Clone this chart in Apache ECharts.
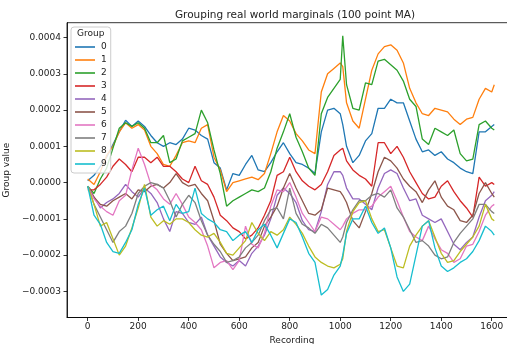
<!DOCTYPE html>
<html>
<head>
<meta charset="utf-8">
<script src="https://cdn.jsdelivr.net/npm/echarts@6/dist/echarts.min.js"></script>
<style>
  html, body { margin: 0; padding: 0; background: #fff; }
  #chart { width: 507px; height: 344px; }
</style>
</head>
<body>
<div id="chart"></div>
<script>
// Recording index of each moving-average sample
const recordings = [
  0, 25, 50, 75, 100, 125, 150, 175, 200, 225,
  250, 275, 300, 325, 350, 375, 400, 425, 450, 475,
  500, 525, 550, 575, 600, 625, 650, 675, 700, 725,
  750, 775, 800, 825, 850, 875, 900, 925, 950, 975,
  1000, 1010, 1025, 1050, 1075, 1100, 1125, 1150, 1175, 1200,
  1225, 1250, 1275, 1300, 1325, 1350, 1375, 1400, 1425, 1450,
  1475, 1500, 1525, 1550, 1575, 1600, 1610
];

// Group values, in units of 1e-4
const group0 = [
  0.05, 0.2, 0.45, 0.7, 1.05, 1.4, 1.72, 1.55, 1.7, 1.55,
  1.3, 1.1, 1.0, 1.1, 1.05, 1.2, 1.5, 1.45, 1.3, 1.2,
  0.55, 0.4, -0.2, 0.25, 0.2, 0.5, 0.75, 0.35, 0.3, 0.55,
  0.85, 1.1, 0.8, 0.55, 0.5, 0.4, 0.25, 1.4, 2.0, 2.05,
  1.9, 1.6, 1.0, 0.55, 0.75, 1.15, 1.35, 2.05, 2.05, 2.3,
  2.2, 2.2, 1.7, 1.2, 0.85, 0.9, 0.75, 0.85, 0.65, 0.55,
  0.4, 0.3, 0.25, 1.4, 1.4, 1.55, 1.6
];
const group1 = [
  0.1, -0.05, 0.3, 0.75, 1.0, 1.4, 1.65, 1.5, 1.6, 1.45,
  1.0, 0.8, 0.5, 0.45, 0.75, 1.1, 1.15, 1.1, 1.5, 1.6,
  0.7, 0.35, -0.25, 0.0, 0.05, 0.1, 0.15, 0.08, 0.25, 0.8,
  1.4, 1.85, 1.7, 1.35, 1.15, 0.9, 0.8, 2.5, 3.0, 3.15,
  3.3, 3.2, 2.2, 1.7, 1.5, 2.3, 3.1, 3.55, 3.75, 3.8,
  3.65, 3.3, 2.6, 2.2, 1.9, 1.85, 2.05, 2.0, 1.95, 1.75,
  1.6, 1.75, 1.8, 2.3, 2.6, 2.5, 2.7
];
const group2 = [
  -0.1, -0.3, 0.1, 0.4, 0.95, 1.5, 1.65, 1.55, 1.65, 1.5,
  1.1, 1.1, 1.3, 0.55, 0.65, 1.15, 1.25, 1.35, 2.0, 1.65,
  0.9, 0.25, -0.65, -0.5, -0.4, -0.3, -0.2, -0.25, -0.15, 0.3,
  0.95, 1.4, 1.9, 1.25, 0.85, 0.4, 0.2, 1.9, 2.35, 2.6,
  2.85, 4.05, 2.7, 2.05, 2.0, 2.75, 2.7, 3.35, 3.4, 3.25,
  3.1, 2.8, 2.3, 2.1, 1.2, 1.05, 1.5, 1.4, 1.3, 1.45,
  0.8, 0.6, 0.65, 1.6, 1.7, 1.5, 1.45
];
const group3 = [
  -0.2, -0.2, -0.05, 0.15, 0.45, 0.65, 0.5, 0.3, 0.7, 0.7,
  0.55, 0.7, 0.45, 0.45, 0.3, 0.1, 0.0, 0.45, 0.05, -0.05,
  -0.4, -0.9, -1.05, -1.25, -1.35, -1.55, -1.45, -1.25, -0.9, -0.5,
  0.2, 0.3, 0.7, 0.3, 0.05, -0.1, -0.2, -0.05, 0.3, 0.75,
  0.9, 0.95, 0.6, 0.35, 0.2, 0.1, -0.1, 1.1, 1.1, 0.8,
  1.0, 0.7, 0.3, 0.0, -0.3, -0.45, -0.4, -0.1, 0.05, -0.25,
  -0.5, -0.7, -0.95, 0.15, -0.1, 0.0, -0.05
];
const group4 = [
  -0.1, -0.4, -0.7, -0.55, -0.45, -0.3, -0.05, -0.25, -0.4, -0.15,
  -0.3, -0.55, -1.0, -1.35, -0.8, -0.85, -1.1, -1.15, -0.95, -1.45,
  -1.75, -2.05, -2.2, -2.3, -2.15, -2.3, -1.95, -1.75, -1.45, -1.0,
  -0.35, -0.15, -0.3, -0.55, -1.05, -1.3, -1.35, -0.8, -0.05, 0.3,
  0.3, 0.2, -0.15, -0.45, -0.45, -0.6, -0.75, -0.15, 0.25, 0.35,
  0.25, -0.15, -0.5, -0.45, -0.9, -1.0, -1.1, -1.0, -1.35, -1.7,
  -1.85, -1.65, -1.5, -0.95, -0.5, -0.35, -0.25
];
const group5 = [
  -0.1, -0.4, -0.6, -0.65, -0.5, -0.4, -0.3, -0.45, -0.2, -0.25,
  -0.1, -0.05, -0.15, 0.0, 0.25, 0.0, -0.1, -0.05, -0.3, -0.5,
  -1.05, -1.7, -1.95, -2.15, -2.1, -2.05, -1.8, -1.65, -1.2, -0.95,
  -0.65, -0.15, 0.25, -0.15, -0.5, -0.85, -0.9, -0.75, -0.15, -0.2,
  -0.25, -0.35, -0.55, -1.05, -1.25, -0.8, -0.3, 0.3, 0.7, 0.6,
  0.4, 0.1, -0.1, -0.25, -0.55, -0.2, 0.05, -0.4, -0.65, -0.75,
  -1.05, -1.1, -0.9, -0.3, 0.0, -0.3, -0.4
];
const group6 = [
  -0.1, -0.45, -0.65, -0.8, -0.9, -0.5, -0.35, 0.35, 0.95, 0.5,
  -0.05, -0.2, -0.45, -0.6, -0.3, -0.6, -0.95, -1.1, -1.3, -1.75,
  -2.35, -2.2, -2.15, -2.4, -2.15, -1.2, -1.7, -1.8, -1.4, -0.65,
  -0.2, -0.25, 0.0, -0.4, -0.85, -1.1, -1.35, -0.95, -1.0, -1.15,
  -1.3, -1.2, -1.0, -0.85, -0.75, -0.75, -0.65, -0.4, -0.25, -0.1,
  -0.5, -0.95, -1.35, -1.5, -1.6, -1.2, -1.55, -1.85, -1.95, -2.2,
  -2.1, -1.75, -1.7, -1.35, -0.9, -0.65, -0.6
];
const group7 = [
  -0.1, -0.6, -0.95, -1.3, -1.65, -1.35, -1.2, -0.85, -0.3, -0.1,
  0.0, -0.05, -0.15, -0.5, -0.95, -0.6, -0.35, -0.55, -1.05, -1.45,
  -1.7, -1.9, -2.2, -2.15, -2.05, -1.8, -1.65, -1.45, -1.05, -0.75,
  -0.7, -1.0, -0.15, -0.85, -1.15, -1.25, -1.4, -1.15, -1.25, -1.45,
  -1.65, -1.5, -1.1, -0.75, -0.5, -0.5, -0.35, -0.3, -0.4, -0.2,
  -0.7, -0.95, -1.3, -1.65, -1.6, -1.75, -2.0, -2.1, -2.05, -1.65,
  -1.4, -1.2, -1.0, -0.6, -0.6, -0.8, -0.85
];
const group8 = [
  -0.1, -0.6, -1.2, -1.1, -1.55, -2.0, -1.75, -1.25, -0.7, -0.05,
  -0.95, -1.2, -1.05, -1.15, -1.0, -1.0, -1.1, -1.3, -1.45, -1.5,
  -1.4, -1.65, -1.95, -2.0, -1.8, -1.6, -1.1, -1.4, -1.6, -1.35,
  -1.45, -1.3, -0.95, -1.15, -1.4, -1.75, -2.05, -2.2, -2.3, -2.35,
  -2.25, -2.1, -1.35, -0.8, -0.55, -0.5, -1.0, -1.35, -1.3, -1.8,
  -2.3, -2.35, -1.75, -1.45, -1.2, -1.05, -1.5, -1.95, -2.2, -2.15,
  -1.9, -1.7, -1.5, -1.2, -0.6, -1.0, -1.05
];
const group9 = [
  -0.1, -0.9, -1.15, -1.65, -1.9, -1.95, -1.65, -1.3, -0.6, -0.15,
  -0.9, -0.75, -0.65, -1.05, -0.6, -0.85, -0.8, -0.15, -0.85, -1.0,
  -1.1, -1.3, -1.35, -1.6, -1.45, -1.35, -1.65, -1.3, -1.15, -1.45,
  -1.8, -1.4, -1.0, -1.1, -1.5, -1.95, -2.2, -3.1, -2.95, -2.55,
  -2.3, -2.0, -1.4, -1.0, -1.0, -0.65, -1.1, -1.4, -1.25, -1.8,
  -2.6, -3.0, -2.8, -2.0, -1.2, -1.05, -1.8, -2.3, -2.45, -2.35,
  -2.2, -2.1, -1.9, -1.6, -1.2, -1.35, -1.45
];

const groupNames = ['0', '1', '2', '3', '4', '5', '6', '7', '8', '9'];
const groupValues = [group0, group1, group2, group3, group4, group5, group6, group7, group8, group9];
const xTicks = [0, 200, 400, 600, 800, 1000, 1200, 1400, 1600];
const yTicks = [-3, -2, -1, 0, 1, 2, 3, 4];

const palette = ['#1f77b4', '#ff7f0e', '#2ca02c', '#d62728', '#9467bd',
                 '#8c564b', '#e377c2', '#7f7f7f', '#bcbd22', '#17becf'];
const FONT = 'DejaVu Sans';
const INK = '#222';

function yLabel(v) {
  const s = (Math.abs(v) / 1e4).toFixed(4);
  return v < 0 ? '\u2212' + s : s;
}

const series = groupNames.map((name, i) => ({
  name: name,
  type: 'line',
  data: recordings.map((r, k) => [r, groupValues[i][k]]),
  showSymbol: false,
  symbol: 'none',
  lineStyle: { width: 1.3, color: palette[i] },
  itemStyle: { color: palette[i] },
  emphasis: { disabled: true },
  animation: false
}));

const chart = echarts.init(document.getElementById('chart'), null, { renderer: 'canvas' });
chart.setOption({
  animation: false,
  backgroundColor: '#fff',
  title: {
    text: 'Grouping real world marginals (100 point MA)',
    left: 290,
    top: 5,
    textAlign: 'center',
    textStyle: { fontFamily: FONT, fontSize: 10.5, fontWeight: 'normal', color: INK }
  },
  grid: {
    left: 67, top: 22.7, width: 450, height: 294.8,
    show: true, borderColor: '#000', borderWidth: 0.8, backgroundColor: 'transparent',
    containLabel: false,
    outerBoundsMode: 'none'
  },
  legend: {
    data: groupNames,
    orient: 'vertical',
    left: 71,
    top: 27,
    padding: [15.5, 4, 4.5, 4],
    itemGap: 4,
    itemWidth: 20,
    itemHeight: 1.6,
    icon: 'rect',
    backgroundColor: 'rgba(255,255,255,0.8)',
    borderColor: '#cccccc',
    borderWidth: 1,
    borderRadius: 3,
    textStyle: { fontFamily: FONT, fontSize: 9, color: INK, padding: [0, 0, 0, 1] },
    selectedMode: false
  },
  graphic: [{
    type: 'text',
    left: 77,
    top: 29.5,
    z: 100,
    style: { text: 'Group', fontFamily: FONT, fontSize: 9, fill: INK }
  }],
  xAxis: {
    type: 'value',
    min: -82,
    max: 1700,
    name: 'Recording',
    nameLocation: 'middle',
    nameGap: 17,
    nameTextStyle: { fontFamily: FONT, fontSize: 9, color: INK },
    axisLine: { show: true, onZero: false, lineStyle: { color: '#000', width: 0.8 } },
    axisTick: { show: true, length: 3.5, customValues: xTicks, lineStyle: { color: '#000', width: 0.8 } },
    axisLabel: { customValues: xTicks, margin: 5, fontFamily: FONT, fontSize: 9, color: INK,
                 formatter: v => String(v) },
    splitLine: { show: false }
  },
  yAxis: {
    type: 'value',
    min: -3.72,
    max: 4.41,
    name: 'Group value',
    nameLocation: 'middle',
    nameGap: 48,
    nameRotate: 90,
    nameTextStyle: { fontFamily: FONT, fontSize: 9, color: INK },
    axisLine: { show: true, onZero: false, lineStyle: { color: '#000', width: 0.8 } },
    axisTick: { show: true, length: 3.5, customValues: yTicks, lineStyle: { color: '#000', width: 0.8 } },
    axisLabel: { customValues: yTicks, margin: 6, fontFamily: FONT, fontSize: 9, color: INK, formatter: yLabel },
    splitLine: { show: false }
  },
  series: series
});
</script>
</body>
</html>
